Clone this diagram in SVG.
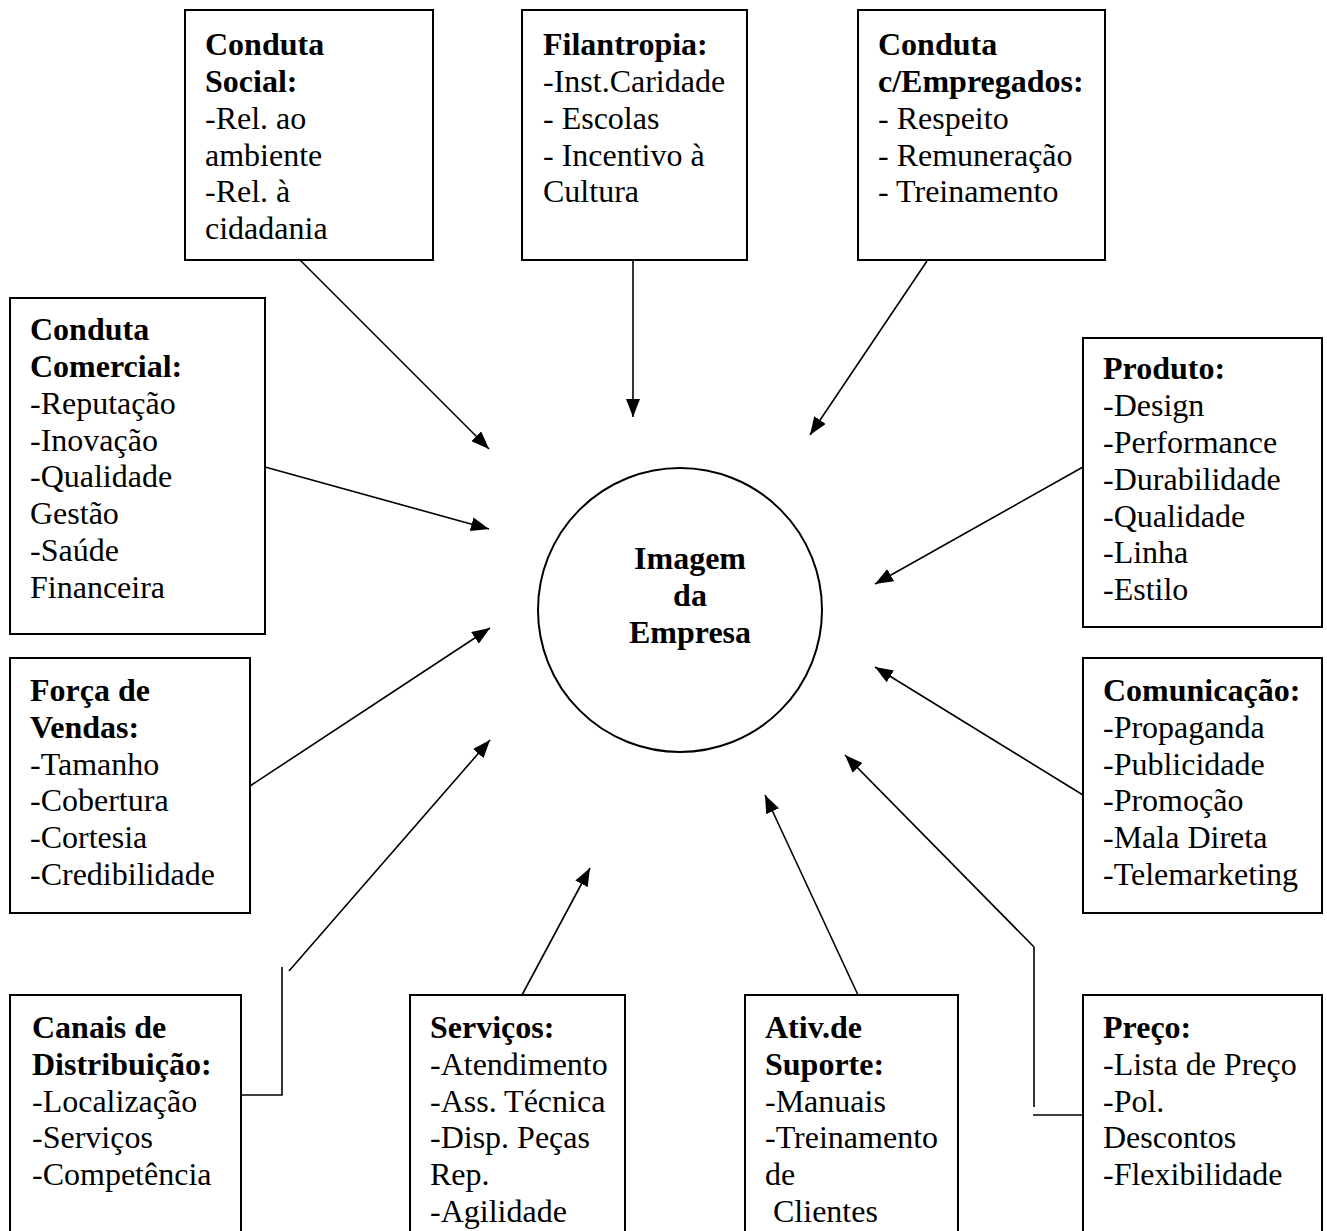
<svg xmlns="http://www.w3.org/2000/svg" width="1327" height="1231" viewBox="0 0 1327 1231">
  <style>
    .box { fill: #ffffff; stroke: #000000; stroke-width: 2; }
    .hub { fill: #ffffff; stroke: #000000; stroke-width: 2; }
    text { font-family: "Liberation Serif", "Times New Roman", serif; font-size: 32px; fill: #000000; }
    .b { font-weight: bold; }
    .edge { fill: none; stroke: #000000; stroke-width: 1.6; }
  </style>
  <defs>
    <marker id="arrow" viewBox="0 0 18 14" refX="18" refY="7" markerWidth="18" markerHeight="14" markerUnits="userSpaceOnUse" orient="auto">
      <path d="M0,0 L18,7 L0,14 Z" fill="#000000"/>
    </marker>
  </defs>
  <rect width="1327" height="1231" fill="#ffffff"/>

  <!-- connectors -->
  <g id="connectors">
    <line class="edge" x1="300" y1="260" x2="489" y2="449" marker-end="url(#arrow)"/>
    <line class="edge" x1="633" y1="260" x2="633" y2="417" marker-end="url(#arrow)"/>
    <line class="edge" x1="927" y1="261" x2="810" y2="435" marker-end="url(#arrow)"/>
    <line class="edge" x1="265" y1="467" x2="489" y2="529" marker-end="url(#arrow)"/>
    <line class="edge" x1="1083" y1="467" x2="875" y2="584" marker-end="url(#arrow)"/>
    <line class="edge" x1="250" y1="786" x2="490" y2="628" marker-end="url(#arrow)"/>
    <line class="edge" x1="1083" y1="795" x2="875" y2="667" marker-end="url(#arrow)"/>
    <polyline class="edge" points="241,1095 282,1095 282,967"/>
    <line class="edge" x1="289" y1="971" x2="490" y2="740" marker-end="url(#arrow)"/>
    <line class="edge" x1="522" y1="995" x2="590" y2="868" marker-end="url(#arrow)"/>
    <line class="edge" x1="858" y1="995" x2="765" y2="795" marker-end="url(#arrow)"/>
    <polyline class="edge" points="1034,1107 1034,947"/>
    <line class="edge" x1="1033" y1="1115" x2="1083" y2="1115"/>
    <line class="edge" x1="1034" y1="947" x2="845" y2="755" marker-end="url(#arrow)"/>
  </g>

  <!-- central node -->
  <g id="imagem">
    <circle class="hub" cx="680" cy="610" r="142"/>
    <text class="b" x="690" y="569" text-anchor="middle">Imagem</text>
    <text class="b" x="690" y="606" text-anchor="middle">da</text>
    <text class="b" x="690" y="643" text-anchor="middle">Empresa</text>
  </g>

  <g id="conduta-social">
    <rect class="box" x="185" y="10" width="248" height="250"/>
    <text x="205">
      <tspan class="b" x="205" y="55">Conduta</tspan>
      <tspan class="b" x="205" y="92">Social:</tspan>
      <tspan x="205" y="129">-Rel. ao</tspan>
      <tspan x="205" y="166">ambiente</tspan>
      <tspan x="205" y="202">-Rel. à</tspan>
      <tspan x="205" y="239">cidadania</tspan>
    </text>
  </g>

  <g id="filantropia">
    <rect class="box" x="522" y="10" width="225" height="250"/>
    <text>
      <tspan class="b" x="543" y="55">Filantropia:</tspan>
      <tspan x="543" y="92">-Inst.Caridade</tspan>
      <tspan x="543" y="129">- Escolas</tspan>
      <tspan x="543" y="166">- Incentivo à</tspan>
      <tspan x="543" y="202">Cultura</tspan>
    </text>
  </g>

  <g id="conduta-empregados">
    <rect class="box" x="858" y="10" width="247" height="250"/>
    <text>
      <tspan class="b" x="878" y="55">Conduta</tspan>
      <tspan class="b" x="878" y="92">c/Empregados:</tspan>
      <tspan x="878" y="129">- Respeito</tspan>
      <tspan x="878" y="166">- Remuneração</tspan>
      <tspan x="878" y="202">- Treinamento</tspan>
    </text>
  </g>

  <g id="conduta-comercial">
    <rect class="box" x="10" y="298" width="255" height="336"/>
    <text>
      <tspan class="b" x="30" y="340">Conduta</tspan>
      <tspan class="b" x="30" y="377">Comercial:</tspan>
      <tspan x="30" y="414">-Reputação</tspan>
      <tspan x="30" y="451">-Inovação</tspan>
      <tspan x="30" y="487">-Qualidade</tspan>
      <tspan x="30" y="524">Gestão</tspan>
      <tspan x="30" y="561">-Saúde</tspan>
      <tspan x="30" y="598">Financeira</tspan>
    </text>
  </g>

  <g id="produto">
    <rect class="box" x="1083" y="338" width="239" height="289"/>
    <text>
      <tspan class="b" x="1103" y="379">Produto:</tspan>
      <tspan x="1103" y="416">-Design</tspan>
      <tspan x="1103" y="453">-Performance</tspan>
      <tspan x="1103" y="490">-Durabilidade</tspan>
      <tspan x="1103" y="527">-Qualidade</tspan>
      <tspan x="1103" y="563">-Linha</tspan>
      <tspan x="1103" y="600">-Estilo</tspan>
    </text>
  </g>

  <g id="forca-vendas">
    <rect class="box" x="10" y="658" width="240" height="255"/>
    <text>
      <tspan class="b" x="30" y="701">Força de</tspan>
      <tspan class="b" x="30" y="738">Vendas:</tspan>
      <tspan x="30" y="775">-Tamanho</tspan>
      <tspan x="30" y="811">-Cobertura</tspan>
      <tspan x="30" y="848">-Cortesia</tspan>
      <tspan x="30" y="885">-Credibilidade</tspan>
    </text>
  </g>

  <g id="comunicacao">
    <rect class="box" x="1083" y="658" width="239" height="255"/>
    <text>
      <tspan class="b" x="1103" y="701">Comunicação:</tspan>
      <tspan x="1103" y="738">-Propaganda</tspan>
      <tspan x="1103" y="775">-Publicidade</tspan>
      <tspan x="1103" y="811">-Promoção</tspan>
      <tspan x="1103" y="848">-Mala Direta</tspan>
      <tspan x="1103" y="885">-Telemarketing</tspan>
    </text>
  </g>

  <g id="canais-distribuicao">
    <rect class="box" x="10" y="995" width="231" height="260"/>
    <text>
      <tspan class="b" x="32" y="1038">Canais de</tspan>
      <tspan class="b" x="32" y="1075">Distribuição:</tspan>
      <tspan x="32" y="1112">-Localização</tspan>
      <tspan x="32" y="1148">-Serviços</tspan>
      <tspan x="32" y="1185">-Competência</tspan>
    </text>
  </g>

  <g id="servicos">
    <rect class="box" x="410" y="995" width="215" height="260"/>
    <text>
      <tspan class="b" x="430" y="1038">Serviços:</tspan>
      <tspan x="430" y="1075">-Atendimento</tspan>
      <tspan x="430" y="1112">-Ass. Técnica</tspan>
      <tspan x="430" y="1148">-Disp. Peças</tspan>
      <tspan x="430" y="1185">Rep.</tspan>
      <tspan x="430" y="1222">-Agilidade</tspan>
    </text>
  </g>

  <g id="ativ-suporte">
    <rect class="box" x="745" y="995" width="213" height="260"/>
    <text>
      <tspan class="b" x="765" y="1038">Ativ.de</tspan>
      <tspan class="b" x="765" y="1075">Suporte:</tspan>
      <tspan x="765" y="1112">-Manuais</tspan>
      <tspan x="765" y="1148">-Treinamento</tspan>
      <tspan x="765" y="1185">de</tspan>
      <tspan x="773" y="1222">Clientes</tspan>
    </text>
  </g>

  <g id="preco">
    <rect class="box" x="1083" y="995" width="239" height="260"/>
    <text>
      <tspan class="b" x="1103" y="1038">Preço:</tspan>
      <tspan x="1103" y="1075">-Lista de Preço</tspan>
      <tspan x="1103" y="1112">-Pol.</tspan>
      <tspan x="1103" y="1148">Descontos</tspan>
      <tspan x="1103" y="1185">-Flexibilidade</tspan>
    </text>
  </g>
</svg>
